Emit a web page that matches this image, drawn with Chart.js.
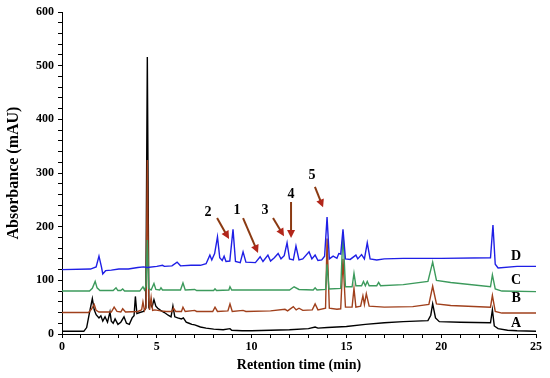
<!DOCTYPE html>
<html>
<head>
<meta charset="utf-8">
<script src="https://cdn.jsdelivr.net/npm/chart.js@4.4.1/dist/chart.umd.min.js"></script>
<style>
    html, body { margin: 0; padding: 0; background: #fff; }
    #chart { display: block; }
</style>
</head>
<body>
<canvas id="chart" width="550" height="378"></canvas>
<script>
// chromatogram traces as [retention time (min), absorbance (mAU)]
const traceA = [[0,5],[1.15,5],[1.3,12],[1.45,40],[1.6,66],[1.7,45],[1.8,36],[1.95,30],[2.05,34],[2.15,24],[2.27,32],[2.4,22],[2.53,41],[2.6,24],[2.7,20],[2.8,28],[2.95,18],[3.1,22],[3.27,32],[3.4,20],[3.55,18],[3.7,30],[3.8,34],[3.87,70],[3.95,38],[4.1,40],[4.3,42],[4.42,48],[4.5,516],[4.58,52],[4.65,58],[4.75,50],[4.85,64],[4.95,52],[5.05,48],[5.2,44],[5.4,40],[5.6,35],[5.75,32],[5.85,52],[5.95,32],[6.1,30],[6.3,28],[6.4,30],[6.55,22],[6.7,20],[6.85,18],[7.0,17],[7.3,13],[7.6,11],[8.0,9],[8.5,8],[8.86,10],[8.95,7],[9.5,6],[10,6],[11,7],[12,8],[13,10],[13.35,13],[13.5,11],[14,12],[15,14],[16,18],[17,21],[18,23],[19.3,25],[19.45,35],[19.55,56],[19.7,30],[19.9,23],[21,22],[22.6,21],[22.7,45],[22.8,15],[23,10],[23.5,7],[24,6],[25,5]];

const traceB = [[0,40],[1.4,40],[1.55,46],[1.7,55],[1.8,44],[1.95,41],[2.6,41],[2.75,50],[2.9,42],[3.1,41],[3.2,47],[3.35,41],[4.0,42],[4.2,45],[4.27,60],[4.35,44],[4.43,50],[4.5,324],[4.57,70],[4.62,45],[4.7,68],[4.78,44],[4.9,45],[5.2,43],[5.5,42],[5.8,42],[5.88,48],[6.0,42],[6.3,42],[6.38,50],[6.5,42],[7.0,44],[7.1,42],[7.95,42],[8.07,50],[8.2,42],[8.75,43],[8.86,56],[8.98,42],[9.55,44],[9.7,42],[11.0,43],[11.76,46],[11.9,43],[12.2,51],[12.35,45],[12.5,48],[12.7,44],[13.2,45],[13.35,56],[13.5,45],[13.9,48],[13.98,178],[14.1,48],[14.5,46],[14.7,47],[14.82,140],[14.95,50],[15.3,50],[15.4,85],[15.5,50],[15.75,52],[15.87,71],[15.95,55],[16.05,75],[16.2,52],[17,50],[18.5,51],[19.35,55],[19.55,89],[19.75,56],[20.5,53],[22.6,50],[22.7,72],[22.85,42],[23.2,39],[25,39]];

const traceC = [[0,80],[1.45,80],[1.6,85],[1.75,98],[1.85,86],[2.0,81],[2.7,81],[2.85,86],[2.95,81],[3.1,81],[3.2,84],[3.3,80],[4.1,80],[4.27,88],[4.35,82],[4.43,90],[4.5,175],[4.57,85],[4.7,82],[4.85,94],[4.95,83],[5.15,82],[5.22,86],[5.3,82],[6.25,82],[6.38,95],[6.5,82],[7.0,83],[7.1,81],[8.0,81],[8.07,84],[8.15,81],[8.8,82],[8.86,88],[8.95,82],[10,82],[12.0,82],[12.24,88],[12.5,83],[13.25,82],[13.35,86],[13.45,82],[13.9,83],[13.98,130],[14.08,84],[14.7,85],[14.82,190],[14.95,88],[15.3,88],[15.4,113],[15.5,90],[15.8,90],[15.9,98],[16.0,90],[16.1,98],[16.2,90],[16.6,90],[16.7,96],[16.8,90],[18,92],[19.3,98],[19.55,134],[19.75,100],[20.5,96],[22.6,88],[22.7,110],[22.85,84],[23.2,80],[25,79]];

const traceD = [[0,120],[1.5,121],[1.8,125],[1.95,145],[2.08,125],[2.15,112],[2.3,118],[2.6,119],[3.0,121],[3.5,121],[4.0,124],[4.3,125],[4.5,124],[5.0,126],[5.3,128],[5.4,126],[5.8,127],[6.07,134],[6.25,127],[6.8,128],[7.3,128],[7.6,131],[7.8,147],[7.9,138],[8.05,150],[8.2,181],[8.32,142],[8.45,137],[8.55,145],[8.65,135],[8.85,136],[9.02,195],[9.15,135],[9.4,133],[9.55,153],[9.7,134],[10.2,133],[10.45,144],[10.6,135],[10.86,147],[11.0,136],[11.2,142],[11.4,150],[11.55,140],[11.72,146],[11.87,170],[12.0,140],[12.2,138],[12.34,164],[12.5,138],[12.7,140],[13.03,153],[13.18,140],[13.35,147],[13.5,137],[13.7,138],[13.85,145],[13.98,218],[14.1,140],[14.3,145],[14.5,141],[14.6,150],[14.7,149],[14.82,195],[14.95,140],[15.2,139],[15.5,147],[15.6,140],[15.8,148],[15.95,140],[16.1,170],[16.25,140],[16.6,138],[17,140],[18,141],[20,141],[22.6,142],[22.73,203],[22.85,130],[23.0,123],[24,126],[25,126]];

// trace letters at the right end
const traceNames = ['D', 'C', 'B', 'A'];
const traceLabelY = [145, 99, 67, 20];

// numbered peaks: label position, arrow start and arrow end (min, mAU)
const peakNames = ['2', '1', '3', '4', '5'];
const peakLabel = [[7.70, 227], [9.23, 231], [10.71, 231], [12.08, 261], [13.19, 296]];
const arrowFrom = [[8.18, 216], [9.55, 216], [11.13, 216], [12.08, 246], [13.34, 274]];
const arrowTo = [[8.81, 177], [10.34, 151], [11.71, 182], [12.08, 179], [13.77, 236]];

const FONT = '"Liberation Serif", "Times New Roman", serif';

const toXY = arr => arr.map(p => ({ x: p[0], y: p[1] }));

const annotations = {
    id: 'annotations',
    afterDatasetsDraw(chart) {
        const ctx = chart.ctx;
        const xs = chart.scales.x;
        const ys = chart.scales.y;
        ctx.save();
        ctx.fillStyle = '#000';
        ctx.textAlign = 'center';
        ctx.textBaseline = 'middle';
        ctx.font = 'bold 14px ' + FONT;
        traceNames.forEach((name, i) => {
            ctx.fillText(name, xs.getPixelForValue(23.95), ys.getPixelForValue(traceLabelY[i]));
        });
        peakNames.forEach((name, i) => {
            ctx.fillStyle = '#000';
            ctx.fillText(name, xs.getPixelForValue(peakLabel[i][0]), ys.getPixelForValue(peakLabel[i][1]));
            const x1 = xs.getPixelForValue(arrowFrom[i][0]);
            const y1 = ys.getPixelForValue(arrowFrom[i][1]);
            const x2 = xs.getPixelForValue(arrowTo[i][0]);
            const y2 = ys.getPixelForValue(arrowTo[i][1]);
            const a = Math.atan2(y2 - y1, x2 - x1);
            ctx.strokeStyle = '#8b3a12';
            ctx.lineWidth = 2;
            ctx.beginPath();
            ctx.moveTo(x1, y1);
            ctx.lineTo(x2 - 5 * Math.cos(a), y2 - 5 * Math.sin(a));
            ctx.stroke();
            ctx.fillStyle = '#b2261a';
            ctx.beginPath();
            ctx.moveTo(x2, y2);
            ctx.lineTo(x2 - 8 * Math.cos(a) + 4 * Math.sin(a), y2 - 8 * Math.sin(a) - 4 * Math.cos(a));
            ctx.lineTo(x2 - 8 * Math.cos(a) - 4 * Math.sin(a), y2 - 8 * Math.sin(a) + 4 * Math.cos(a));
            ctx.closePath();
            ctx.fill();
        });
        ctx.restore();
    }
};

function makeLine(data, color) {
    return {
        data: toXY(data),
        borderColor: color,
        borderWidth: 1.4,
        pointRadius: 0,
        tension: 0,
        fill: false
    };
}

new Chart(document.getElementById('chart').getContext('2d'), {
    type: 'line',
    data: {
        datasets: [
            makeLine(traceD, '#1f1fe6'),
            makeLine(traceC, '#3c9a5c'),
            makeLine(traceB, '#a0401c'),
            makeLine(traceA, '#000000')
        ]
    },
    options: {
        responsive: false,
        animation: false,
        layout: { padding: { left: 0, right: 14, top: 12, bottom: 0 } },
        plugins: {
            legend: { display: false },
            tooltip: { enabled: false }
        },
        scales: {
            x: {
                type: 'linear',
                min: 0,
                max: 25,
                afterFit: scale => { scale.height = 44; },
                border: { display: true, color: '#000', width: 1 },
                grid: { drawOnChartArea: false, drawTicks: true, tickLength: 4, color: '#000' },
                ticks: {
                    stepSize: 1,
                    autoSkip: false,
                    maxRotation: 0,
                    padding: 2,
                    color: '#000',
                    font: { family: FONT, size: 12, weight: 'bold' },
                    callback: v => (v % 5 === 0 ? v : '')
                },
                title: {
                    display: true,
                    text: 'Retention time (min)',
                    color: '#000',
                    padding: { top: 2 },
                    font: { family: FONT, size: 14, weight: 'bold' }
                }
            },
            y: {
                min: 0,
                max: 600,
                afterFit: scale => { scale.width = 62; },
                border: { display: true, color: '#000', width: 1 },
                grid: { drawOnChartArea: false, drawTicks: true, tickLength: 4, color: '#000' },
                ticks: {
                    stepSize: 20,
                    autoSkip: false,
                    padding: 4,
                    color: '#000',
                    font: { family: FONT, size: 12, weight: 'bold' },
                    callback: v => (v % 100 === 0 ? v : '')
                },
                title: {
                    display: true,
                    text: 'Absorbance (mAU)',
                    color: '#000',
                    padding: { bottom: 3 },
                    font: { family: FONT, size: 16, weight: 'bold' }
                }
            }
        }
    },
    plugins: [annotations]
});
</script>
</body>
</html>
